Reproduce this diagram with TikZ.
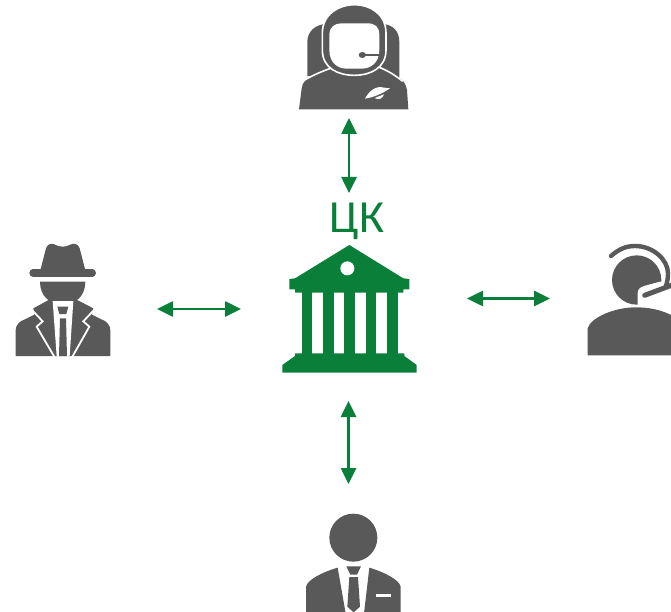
\documentclass[tikz,border=0pt]{standalone}
\usepackage{fontspec}
\setmainfont{Carlito}
\usetikzlibrary{arrows.meta}
\definecolor{gr}{HTML}{0A7F3A}
\definecolor{dk}{HTML}{595959}
\tikzset{
  link/.style={draw=gr,line width=2.6pt,{Triangle[width=15pt,length=16pt]}-{Triangle[width=15pt,length=16pt]},shorten <=0pt,shorten >=0pt},
  zoomed/.style={x=1pt/3,y=-1pt/3},
  dkfill/.style={fill=dk,draw=none},
  grfill/.style={fill=gr,draw=none},
  wfill/.style={fill=white,draw=none},
  wline/.style={draw=white,line join=round},
  label/.style={text=gr,font=\fontsize{46pt}{46pt}\selectfont,inner sep=0pt,anchor=base}
}
\begin{document}
\begin{tikzpicture}[x=1pt,y=-1pt]
\useasboundingbox (0,0) rectangle (671,612);
\clip (0,0) rectangle (671,612);
% connectors
\coordinate (topA) at (349,118); \coordinate (topB) at (349,193);
\coordinate (leftA) at (157,309); \coordinate (leftB) at (241,309);
\coordinate (rightA) at (467,298.5); \coordinate (rightB) at (550,298.5);
\coordinate (botA) at (348.5,401); \coordinate (botB) at (348.5,484);
\draw[link] (topA) -- (topB);
\draw[link] (leftA) -- (leftB);
\draw[link] (rightA) -- (rightB);
\draw[link] (botA) -- (botB);
% label
\node[label] (ck) at (357,232.7) {ЦК};
% astronaut
\begin{scope}[shift={(280,0)},zoomed]
\fill[dk] (82,228) -- (82,125) .. controls (82,95) and (105,75) .. (135,72) -- (310,72) .. controls (340,75) and (358,95) .. (358,125) -- (358,232) -- cycle;
\path[dkfill] (57,328) -- (65,265) .. controls (68,245) and (78,238) .. (95,230) -- (150,200) -- (295,200) -- (355,232) .. controls (370,240) and (378,252) .. (381,270) -- (385,328) -- cycle;
\draw[white,line width=1.6pt] (70,242) .. controls (100,225) and (130,212) .. (158,203);
\draw[white,line width=1.6pt] (368,244) .. controls (345,225) and (320,210) .. (288,198);
\path[dkfill,wline,line width=1.6pt] (127,100) .. controls (127,40) and (180,14) .. (223,14) .. controls (268,14) and (318,40) .. (318,100) -- (318,150) .. controls (318,205) and (270,226) .. (223,226) .. controls (175,226) and (127,205) .. (127,150) -- cycle;
\path[wfill] (148,105) .. controls (148,80) and (165,70) .. (185,70) -- (262,70) .. controls (285,70) and (298,80) .. (298,105) -- (298,150) .. controls (298,190) and (270,206) .. (245,206) -- (200,206) .. controls (175,206) and (148,190) .. (148,150) -- cycle;
\fill[dk] (247,165) ellipse [x radius=11,y radius=9];
\draw[dk,line width=1.8pt] (250,165) -- (298,165);
\path[wfill] (255,296) .. controls (268,272) and (288,256) .. (312,263) -- (330,265) .. controls (305,282) and (280,292) .. (255,296) -- cycle;
\path[wfill] (284,294) .. controls (295,302) and (308,296) .. (312,283) -- cycle;
\end{scope}
% spy
\begin{scope}[shift={(0,230)},zoomed]
\draw[dk,line width=7.3pt,line cap=round] (99,129) -- (277,129);
\path[dkfill] (120,125) -- (138,55) .. controls (142,42) and (155,38) .. (165,44) .. controls (178,52) and (198,52) .. (211,44) .. controls (222,38) and (235,42) .. (239,55) -- (257,125) -- cycle;
\path[dkfill] (120,155) .. controls (120,200) and (150,223) .. (188,223) .. controls (226,223) and (256,200) .. (256,155) -- cycle;
\path[dkfill] (47,378) -- (47,300) .. controls (47,285) and (60,272) .. (75,268) -- (103,254) -- (100,235) -- (155,205) -- (222,205) -- (280,235) -- (276,254) -- (304,268) .. controls (318,272) and (331,285) .. (331,300) -- (331,378) -- cycle;
% lapels
\draw[white,line width=1.8pt,line join=miter] (94,238) -- (128,274) -- (110,290) -- (164,382);
\draw[white,line width=1.8pt,line join=miter] (284,238) -- (250,274) -- (268,290) -- (216,382);
% shirt and tie
\path[wfill] (158,213) -- (220,213) -- (209,378) -- (170,378) -- cycle;
\path[dkfill] (172,230) -- (205,230) -- (199,252) -- (178,252) -- cycle;
\path[dkfill] (180,265) -- (198,265) -- (201,378) -- (177,378) -- cycle;
\end{scope}
% bank
\begin{scope}[shift={(270,190)},zoomed]
\path[grfill] (238,165) -- (400,265) -- (418,267) -- (418,298) -- (400,298) -- (400,308) -- (75,308) -- (75,298) -- (58,298) -- (58,267) -- (75,265) -- cycle;
\foreach \cx in {95,159,223,287,351} \path[grfill] (\cx,305) rectangle ++(32,188);
\path[grfill] (75,490) -- (403,490) -- (403,498) -- (440,525) -- (440,548) -- (37,548) -- (37,525) -- (75,498) -- cycle;
\path[wfill] (232,235) circle [radius=21];
\end{scope}
% headset operator
\begin{scope}[shift={(570,230)},zoomed]
\path[dkfill] (200,150) circle [radius=74];
\path[wfill] (203,230) -- (203,190) .. controls (203,178) and (210,172) .. (222,168) -- (270,155) -- (295,165) -- (300,200) -- (250,232) -- cycle;
\path[dkfill] (53,376) -- (53,295) .. controls (60,265) and (130,232) .. (197,232) .. controls (250,232) and (290,245) .. (320,265) -- (320,376) -- cycle;
\draw[dk,line width=4.4pt,line cap=round] (123,78) .. controls (148,56) and (170,48) .. (195,48) .. controls (250,48) and (294,90) .. (294,130) .. controls (294,145) and (292,155) .. (288,168);
\draw[dk,line width=5pt,line cap=round] (224,196) -- (320,160);
\end{scope}
% businessman
\begin{scope}[shift={(290,505)},zoomed]
\path[dkfill] (190,98) circle [radius=72];
\path[dkfill] (48,325) -- (48,245) .. controls (52,225) and (95,202) .. (143,188) -- (167,325) -- cycle;
\path[dkfill] (238,188) .. controls (285,202) and (328,225) .. (332,245) -- (332,325) -- (222,325) -- cycle;
\path[dkfill] (169,184) -- (213,184) -- (201,209) -- (181,209) -- cycle;
\path[dkfill] (178,216) -- (204,216) -- (210,305) -- (191,322) -- (172,305) -- cycle;
\path[wfill] (258,267) rectangle (302,276);
\end{scope}
\end{tikzpicture}
\end{document}
